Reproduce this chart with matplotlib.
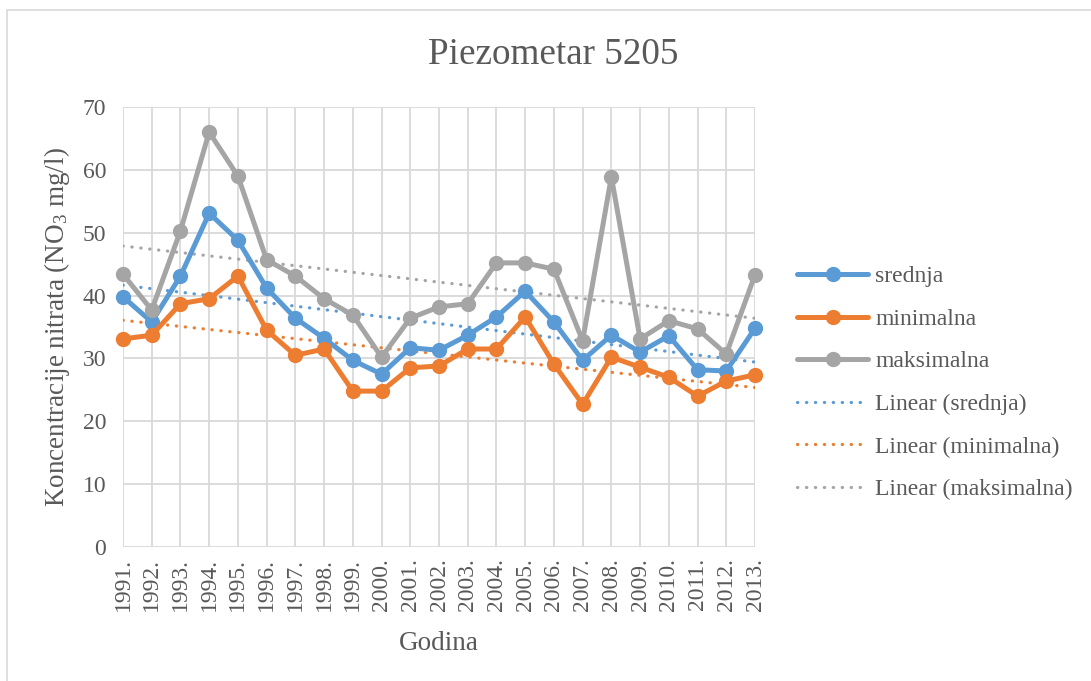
import numpy as np
import matplotlib
matplotlib.use('Agg')
import matplotlib.pyplot as plt
from matplotlib.patches import Rectangle

plt.rcParams['font.family'] = ['Liberation Serif', 'DejaVu Serif']
plt.rcParams['mathtext.fontset'] = 'custom'
plt.rcParams['mathtext.rm'] = 'Liberation Serif'
plt.rcParams['mathtext.it'] = 'Liberation Serif:italic'

# Data
years = ['1991.', '1992.', '1993.', '1994.', '1995.', '1996.', '1997.', '1998.',
         '1999.', '2000.', '2001.', '2002.', '2003.', '2004.', '2005.', '2006.',
         '2007.', '2008.', '2009.', '2010.', '2011.', '2012.', '2013.']
srednja = [39.8, 35.8, 43.1, 53.1, 48.8, 41.2, 36.4, 33.2, 29.7, 27.5, 31.7, 31.3,
           33.7, 36.6, 40.7, 35.8, 29.7, 33.7, 31.0, 33.6, 28.2, 28.0, 34.8]
minimalna = [33.1, 33.7, 38.7, 39.5, 43.1, 34.5, 30.5, 31.5, 24.8, 24.8, 28.5, 28.8,
             31.5, 31.5, 36.6, 29.1, 22.7, 30.2, 28.6, 27.0, 24.0, 26.4, 27.4]
maksimalna = [43.4, 37.7, 50.3, 66.0, 59.0, 45.7, 43.1, 39.5, 36.9, 30.2, 36.4, 38.2,
              38.7, 45.2, 45.2, 44.2, 32.8, 58.9, 33.1, 36.0, 34.7, 30.7, 43.3]

series = [('srednja', srednja, '#5B9BD5'),
          ('minimalna', minimalna, '#ED7D31'),
          ('maksimalna', maksimalna, '#A5A5A5')]

text_color = '#595959'
x = np.arange(len(years))

fig = plt.figure(figsize=(10.91, 6.81), dpi=100)
ax = fig.add_axes([123 / 1091, 1 - 547 / 681, (755 - 123) / 1091, (547 - 107) / 681])

# chart border
fig.patches.append(Rectangle((7 / 1091, -0.1), 1.2, 1 - 10 / 681 + 0.1,
                             transform=fig.transFigure, fill=False,
                             edgecolor='#D9D9D9', lw=1.2))

handles = []
for name, vals, col in series:
    h, = ax.plot(x, vals, color=col, lw=3.6, marker='o', markersize=10,
                 solid_capstyle='round', solid_joinstyle='round', clip_on=False,
                 zorder=3, label=name)
    handles.append(h)

# linear trendlines
for name, vals, col in series:
    k, b = np.polyfit(x, vals, 1)
    h, = ax.plot(x, k * x + b, color=col, lw=2.3, linestyle=(0, (0.1, 2.7)),
                 dash_capstyle='round', zorder=2, label='Linear (%s)' % name)
    handles.append(h)

ax.set_xlim(0, len(years) - 1)
ax.set_ylim(0, 70)
ax.set_yticks(range(0, 71, 10))
ax.set_xticks(x)
ax.set_xticklabels(years, rotation=90)
ax.grid(True, color='#D9D9D9', lw=1.3)
ax.set_axisbelow(True)
for s in ax.spines.values():
    s.set_visible(False)
ax.tick_params(length=0, labelsize=17, labelcolor=text_color)
ax.tick_params(axis='y', pad=12)
ax.tick_params(axis='x', pad=8)

ax.set_xlabel('Godina', fontsize=19.5, color=text_color, labelpad=14)
ax.set_ylabel('Koncentracije nitrata (NO$_3$ mg/l)', fontsize=19.5, color=text_color,
              labelpad=8)
fig.text(553 / 1091, 1 - 55 / 681, 'Piezometar 5205', fontsize=26.7, color=text_color,
         ha='center', va='center')

fig.legend(handles=handles, loc='center left', bbox_to_anchor=(776 / 1091, 1 - 383 / 681),
           frameon=False, fontsize=17, handlelength=3.0, handletextpad=0.3,
           labelspacing=0.89, labelcolor=text_color)

fig.savefig('out.png', dpi=100)
